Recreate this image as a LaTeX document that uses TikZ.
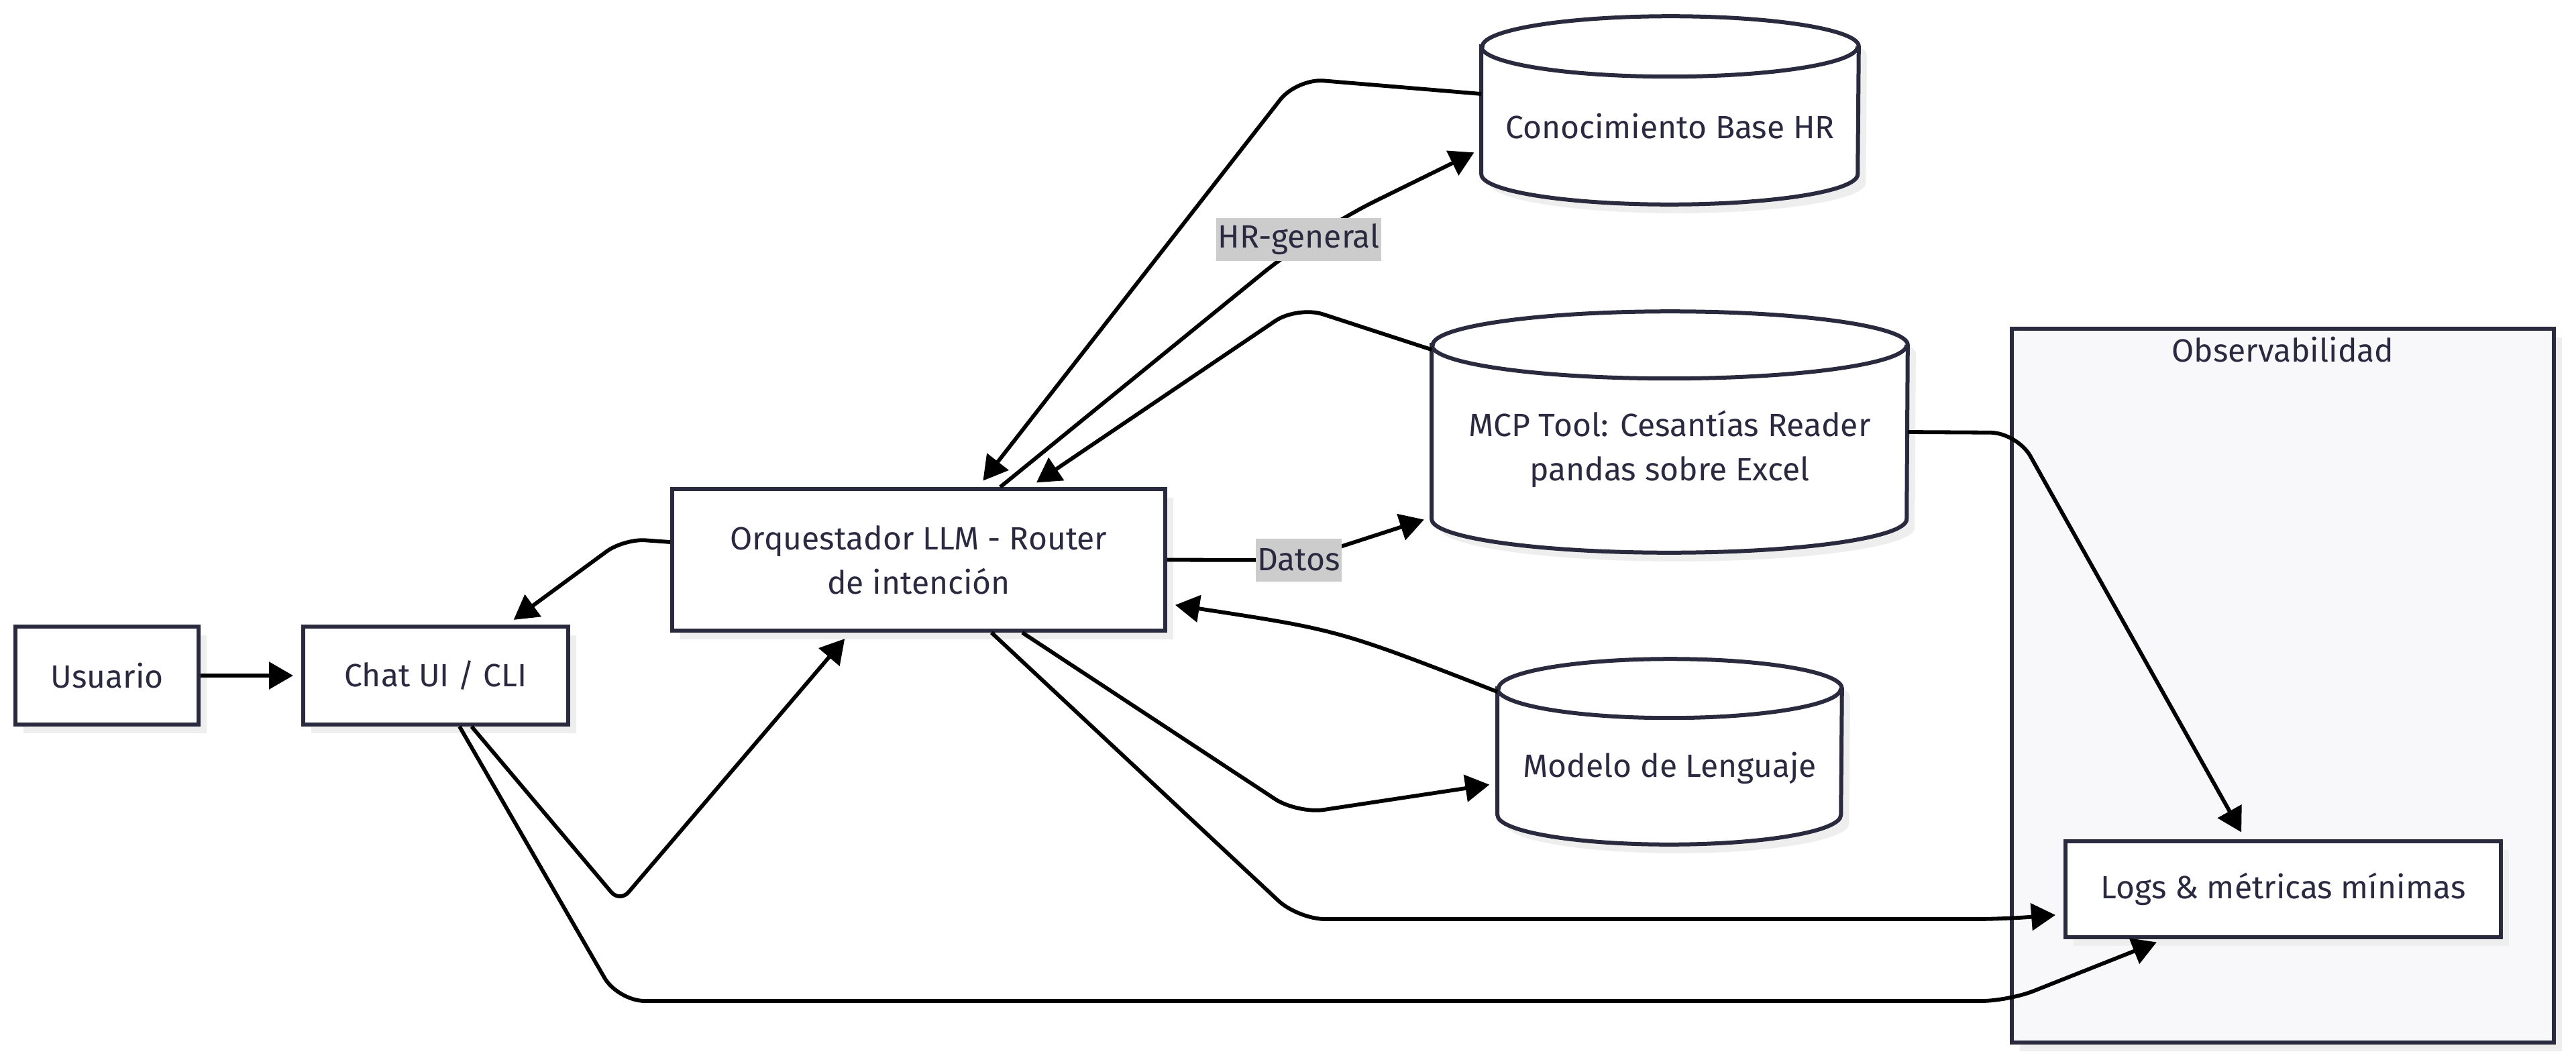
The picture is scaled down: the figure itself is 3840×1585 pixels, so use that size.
\documentclass[tikz,border=0pt]{standalone}
\usepackage{fontspec}
\setmainfont{Fira Sans}
\usetikzlibrary{arrows.meta,calc,shadows}
\definecolor{nodeborder}{HTML}{2A2A3E}
\definecolor{txtc}{HTML}{2A2940}
\definecolor{clusterfill}{HTML}{F8F8FA}
\definecolor{lblc}{HTML}{CCCCCC}
\definecolor{shadowc}{HTML}{EEEEEE}
\newcommand{\cylout}[3]{%
  \path[fill=white, draw=nodeborder, line width=1.5pt, shad]
    ($(#1.north west)+(0,-#3)$) -- ($(#1.south west)+(0,#3)$)
    arc[start angle=180, end angle=360, x radius=#2, y radius=#3]
    -- ($(#1.north east)+(0,-#3)$)
    arc[start angle=0, end angle=180, x radius=#2, y radius=#3] -- cycle;
  \draw[draw=nodeborder, line width=1.5pt]
    ($(#1.north west)+(0,-#3)$) arc[start angle=180, end angle=360, x radius=#2, y radius=#3];
}
\begin{document}
\begin{tikzpicture}[x=0.25pt,y=0.25pt,
  every node/.style={font=\fontsize{12pt}{16.5pt}\selectfont, text=txtc},
  shad/.style={drop shadow={shadow xshift=3pt, shadow yshift=-3.25pt, fill=shadowc, opacity=1}},
  box/.style={rectangle, draw=nodeborder, line width=1.5pt, fill=white, shad, inner sep=0pt, align=center},
  cylbox/.style={rectangle, inner sep=0pt},
  cluster/.style={rectangle, draw=nodeborder, line width=1.5pt, fill=clusterfill, shad, inner sep=0pt},
  conn/.style={draw=black, line width=1.45pt, -{Triangle[length=9pt,width=10pt]}, shorten >=3pt},
  elabel/.style={fill=lblc, inner xsep=0.6pt, inner ysep=0pt, minimum height=16pt},
  txt/.style={align=center, inner sep=0pt}
]
\useasboundingbox (0,0) rectangle (3840,-1585);
\fill[white] (0,0) rectangle (3840,-1585);

% cluster
\node[cluster, minimum width=202pt, minimum height=266pt] (obs) at (3403,-1022) {};
\node[txt] (obst) at (3403,-521) {Observabilidad};

% rectangular nodes
\node[box, minimum width=68.25pt, minimum height=36.5pt] (usr) at (159.5,-1007) {Usuario};
\node[box, minimum width=98.75pt, minimum height=36.5pt] (chat) at (649.5,-1007) {Chat UI / CLI};
\node[box, minimum width=183.75pt, minimum height=52.75pt] (orq) at (1369.5,-834.5) {Orquestador LLM - Router\\de intención};
\node[box, minimum width=162.25pt, minimum height=35.75pt] (logs) at (3403.5,-1325.5) {Logs \& métricas mínimas};

% cylinders
\node[cylbox, minimum width=140.25pt, minimum height=69.75pt] (kb) at (2489.5,-164.5) {};
\cylout{kb}{280.5}{45}
\node[txt] (kbt) at ($(kb)+(0,-23.5)$) {Conocimiento Base HR};

\node[cylbox, minimum width=177pt, minimum height=89.5pt] (mcp) at (2489,-644) {};
\cylout{mcp}{354}{50}
\node[txt] (mcpt) at ($(mcp)+(0,-25)$) {MCP Tool: Cesantías Reader\\pandas sobre Excel};

\node[cylbox, minimum width=128pt, minimum height=68.75pt] (mod) at (2489,-1120.5) {};
\cylout{mod}{256}{44}
\node[txt] (modt) at ($(mod)+(0,-24.5)$) {Modelo de Lenguaje};

% connectors
\draw[conn] (usr.east) -- (chat.west);
\draw[conn, rounded corners=5pt] ($(chat.south west)+(254,0)$) -- (924,-1345) -- ($(orq.south west)+(268,0)$);
\draw[conn, rounded corners=8pt] ($(orq.west)+(0,26.5)$) -- (930,-803) -- ($(chat.north west)+(307,0)$);
\draw[conn, rounded corners=25pt] ($(orq.north west)+(492,0)$) -- (1960,-344) -- ($(kb.west)+(0,-57.5)$);
\draw[conn, rounded corners=10pt] ($(kb.west)+(0,24.5)$) -- (1933,-117) -- ($(orq.north west)+(459,0)$);
\draw[conn, rounded corners=10pt] ($(mcp.north west)+(0,-57)$) -- (1934,-456) -- ($(orq.north west)+(536,0)$);
\draw[conn, rounded corners=6pt] (orq.east) -- (1936,-835) -- ($(mcp.south west)+(0,53)$);
\draw[conn, rounded corners=10pt] (mcp.east) -- (3007,-645) -- ($(logs.north west)+(271,0)$);
\draw[conn] ($(mod.north west)+(0,-49)$) .. controls (1995,-939) .. ($(orq.east)+(0,-65.5)$);
\draw[conn, rounded corners=10pt] ($(orq.south west)+(525,0)$) -- (1934,-1213) -- ($(mod.south west)+(0,91)$);
\draw[conn, rounded corners=10pt] ($(orq.south west)+(479,0)$) -- (1935,-1370) -- (2985,-1370) -- ($(logs.west)+(0,-37.5)$);
\draw[conn, rounded corners=10pt] ($(chat.south west)+(236,0)$) -- (921,-1492) -- (2994,-1492) -- ($(logs.south west)+(150,0)$);

% edge labels
\node[elabel] (lhr) at (1936,-357) {HR-general};
\node[elabel] (ldat) at (1936,-834.5) {Datos};
\end{tikzpicture}
\end{document}
